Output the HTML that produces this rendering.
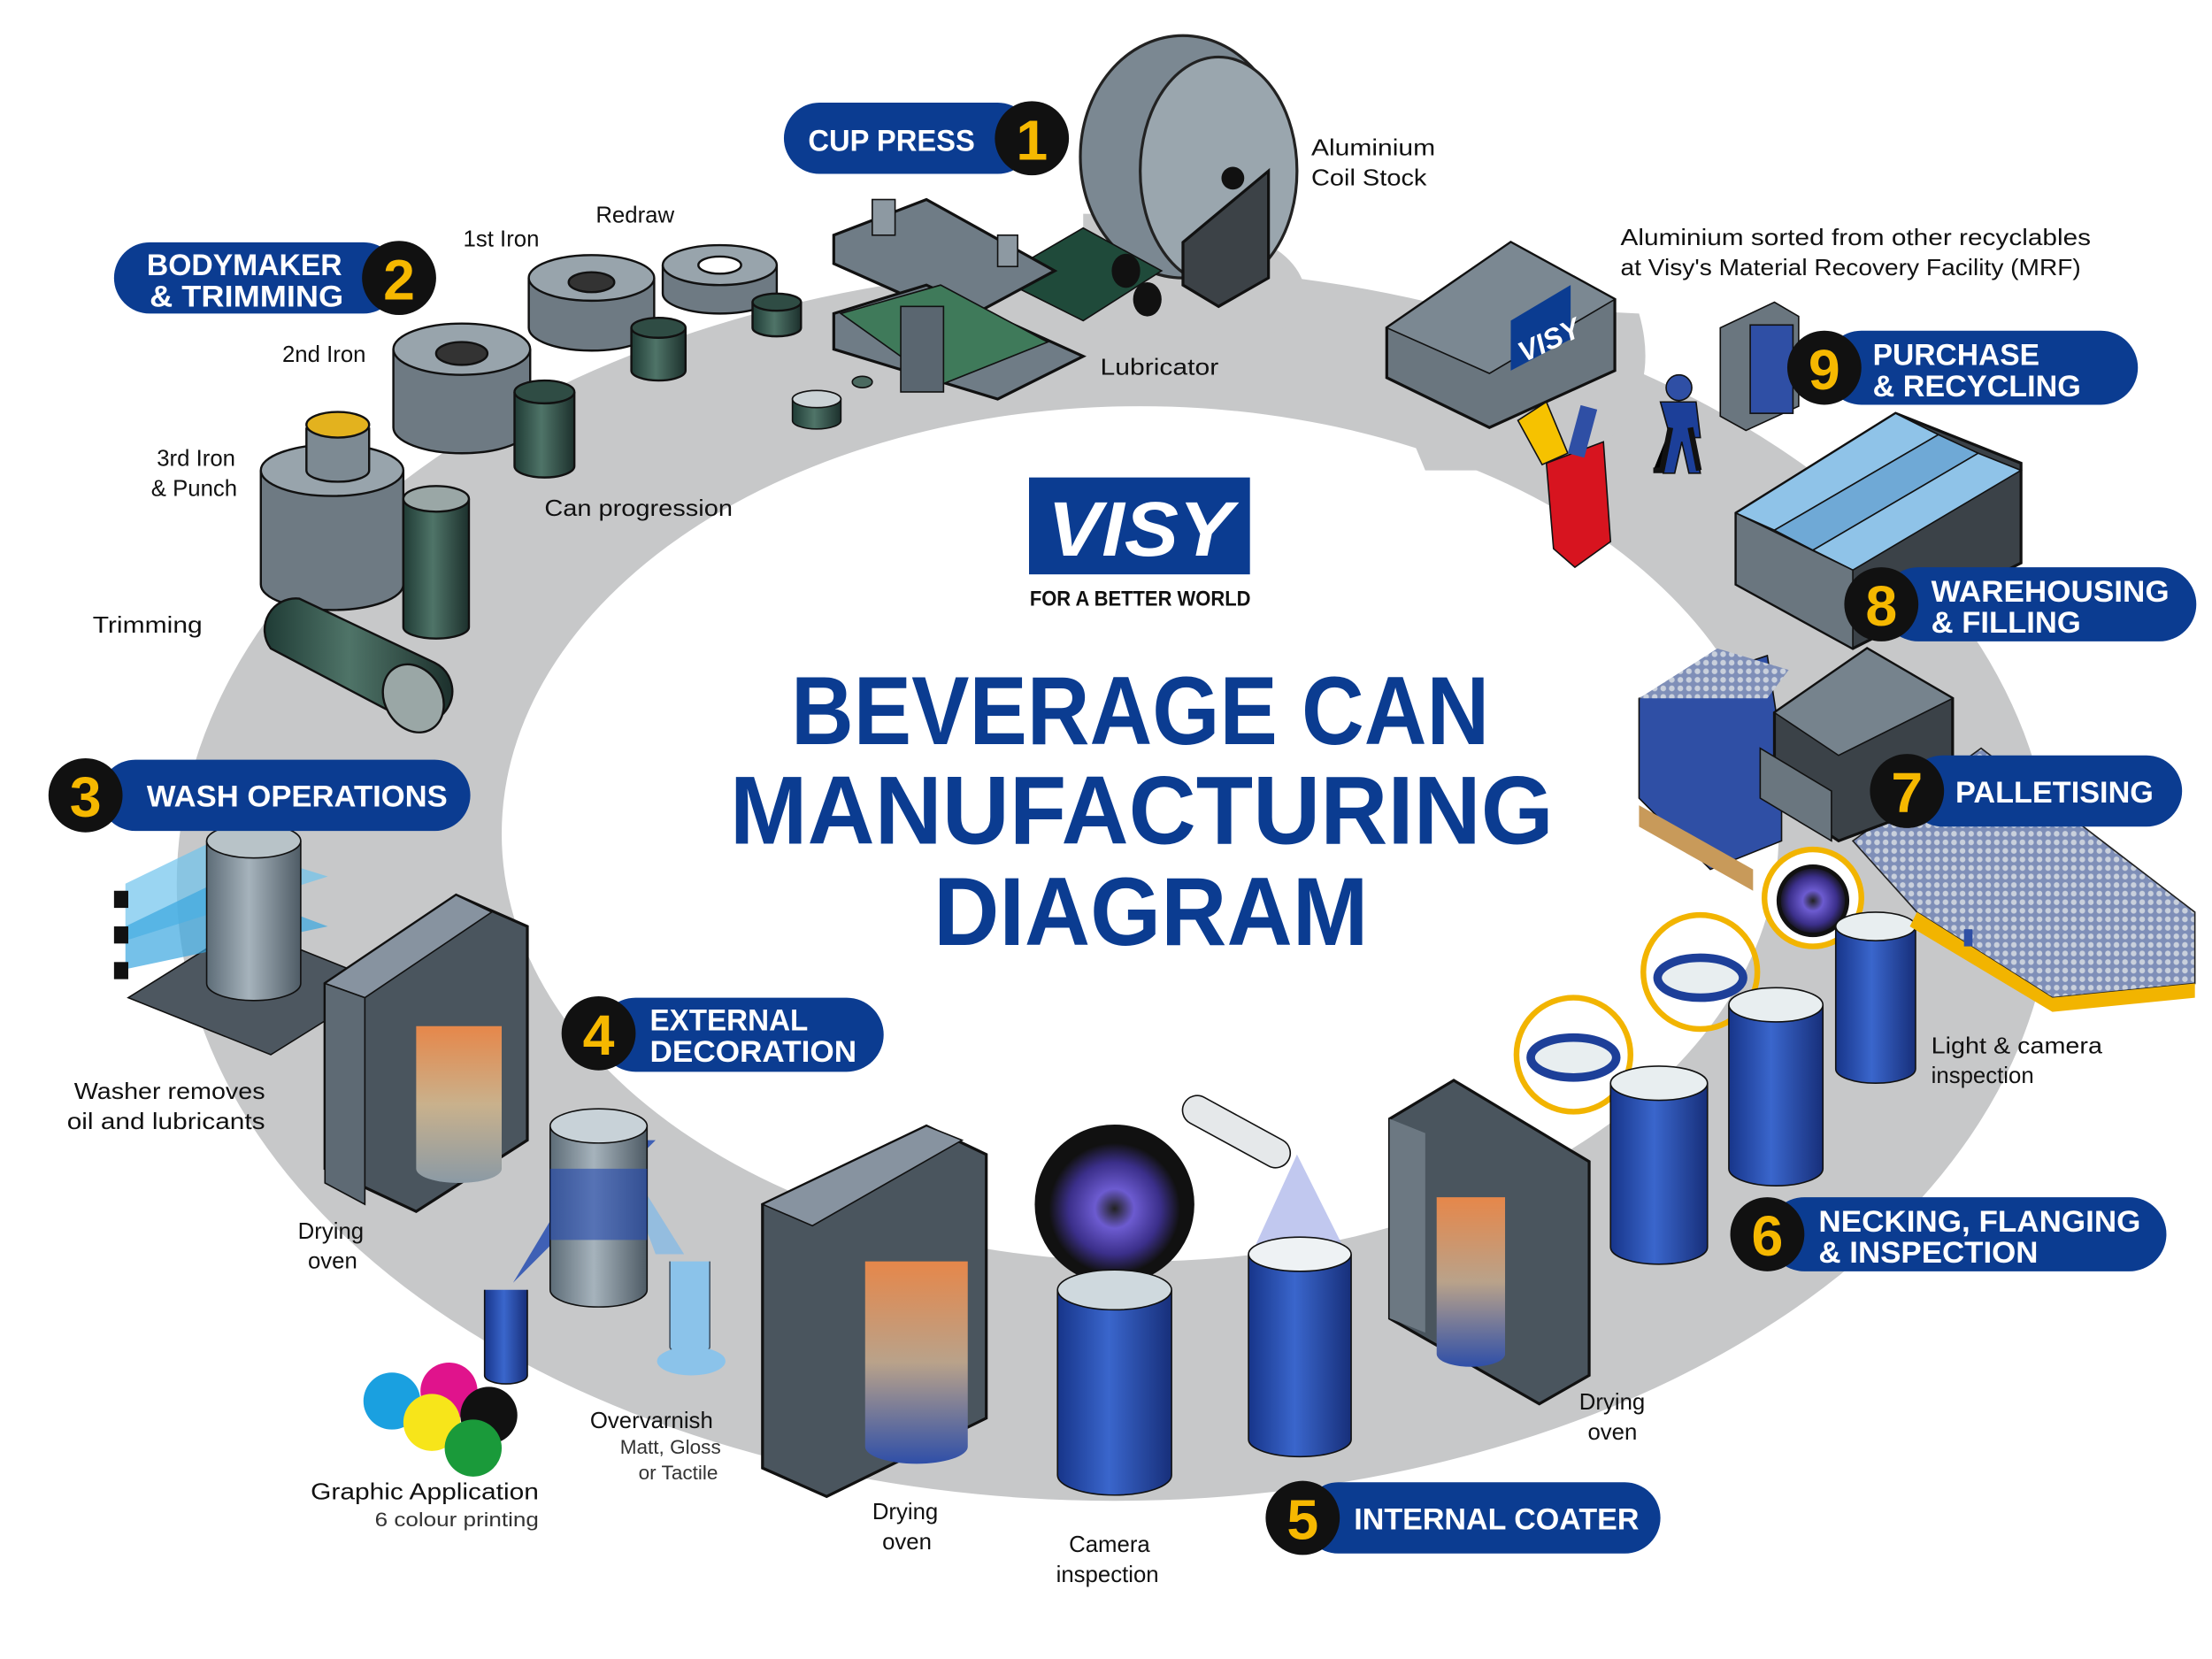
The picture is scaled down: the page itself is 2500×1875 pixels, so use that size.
<!DOCTYPE html>
<html><head><meta charset="utf-8">
<style>
html,body{margin:0;padding:0;background:#fff;}
svg{display:block;}
.lbl{font-family:"Liberation Sans",sans-serif;font-size:16px;fill:#111;}
.sm{font-family:"Liberation Sans",sans-serif;font-size:14px;fill:#333;}
.pill{font-family:"Liberation Sans",sans-serif;font-weight:bold;font-size:21px;fill:#fff;}
.num{font-family:"Liberation Sans",sans-serif;font-weight:bold;font-size:40px;fill:#f6b800;}
.title{font-family:"Liberation Sans",sans-serif;font-weight:bold;font-size:68px;fill:#0b3c91;}
</style></head><body>
<svg width="2500" height="1875" viewBox="0 0 1552 1164" preserveAspectRatio="none" xmlns="http://www.w3.org/2000/svg">
<defs>
<linearGradient id="blue" x1="0" x2="1"><stop offset="0" stop-color="#17358a"/><stop offset=".45" stop-color="#3a66cc"/><stop offset="1" stop-color="#172f7a"/></linearGradient>
<linearGradient id="grey" x1="0" x2="1"><stop offset="0" stop-color="#5d6c77"/><stop offset=".45" stop-color="#a6b3bc"/><stop offset="1" stop-color="#4e5b65"/></linearGradient>
<linearGradient id="green" x1="0" x2="1"><stop offset="0" stop-color="#1f3b35"/><stop offset=".45" stop-color="#4f7468"/><stop offset="1" stop-color="#1c302c"/></linearGradient>
<linearGradient id="hot" x1="0" x2="0" y1="0" y2="1"><stop offset="0" stop-color="#e6874a"/><stop offset=".5" stop-color="#b9a28a"/><stop offset="1" stop-color="#2f4fa8"/></linearGradient>
<linearGradient id="hotg" x1="0" x2="0" y1="0" y2="1"><stop offset="0" stop-color="#e6874a"/><stop offset=".5" stop-color="#c9b18c"/><stop offset="1" stop-color="#8b9aa5"/></linearGradient>
<radialGradient id="lens"><stop offset="0" stop-color="#222"/><stop offset=".3" stop-color="#6c5bd0"/><stop offset=".7" stop-color="#3b2f8a"/><stop offset="1" stop-color="#111"/></radialGradient>
<pattern id="dots" width="6" height="6" patternUnits="userSpaceOnUse"><rect width="6" height="6" fill="#7f8fb8"/><circle cx="3" cy="3" r="2" fill="#c9d0dc"/></pattern>
</defs>

<!-- ring -->
<path fill="#c7c8c9" fill-rule="evenodd" d="M124,620 a658,433 0 1,0 1316,0 a658,433 0 1,0 -1316,0 Z M352,585 a448,300 0 1,0 896,0 a448,300 0 1,0 -896,0 Z"/>
<path fill="#c7c8c9" d="M950,210 L1150,220 Q1170,290 1100,330 L1000,330 Z"/>
<path fill="#c7c8c9" d="M760,150 Q900,150 915,200 Q920,240 860,235 L760,230 Z"/>

<!-- Title / logo -->
<rect x="722" y="335" width="155" height="68" fill="#0b3c91"/>
<text x="800" y="390" text-anchor="middle" textLength="130" lengthAdjust="spacingAndGlyphs" style="font-family:'Liberation Sans',sans-serif;font-weight:bold;font-size:54px;fill:#fff;font-style:italic">VISY</text>
<text x="800" y="425" text-anchor="middle" textLength="155" lengthAdjust="spacingAndGlyphs" style="font-family:'Liberation Sans',sans-serif;font-weight:bold;font-size:15px;fill:#111">FOR A BETTER WORLD</text>
<text class="title" x="555" y="522" textLength="490" lengthAdjust="spacingAndGlyphs">BEVERAGE CAN</text>
<text class="title" x="512" y="592" textLength="578" lengthAdjust="spacingAndGlyphs">MANUFACTURING</text>
<text class="title" x="655" y="663" textLength="305" lengthAdjust="spacingAndGlyphs">DIAGRAM</text>

<!-- Coil stock & cup press -->
<ellipse cx="830" cy="110" rx="72" ry="85" fill="#7b8892" stroke="#222" stroke-width="2"/>
<ellipse cx="855" cy="120" rx="55" ry="80" fill="#9aa6ae" stroke="#222" stroke-width="2"/>
<polygon points="830,170 890,120 890,195 855,215 830,200" fill="#3c4247" stroke="#111" stroke-width="2"/>
<circle cx="865" cy="125" r="8" fill="#111"/>
<polygon points="700,195 760,160 815,190 760,225" fill="#1f4a3a" stroke="#111"/>
<ellipse cx="790" cy="190" rx="10" ry="12" fill="#111"/>
<ellipse cx="805" cy="210" rx="10" ry="12" fill="#111"/>
<polygon points="585,165 650,140 740,190 675,225 585,185" fill="#6f7c86" stroke="#111" stroke-width="2"/>
<polygon points="585,220 650,200 760,250 700,280 585,245" fill="#6f7c86" stroke="#111" stroke-width="2"/>
<polygon points="590,220 660,200 735,240 660,270" fill="#3f7a5a" stroke="#111"/>
<rect x="632" y="215" width="30" height="60" fill="#5a6670" stroke="#111"/>
<rect x="612" y="140" width="16" height="25" fill="#8d99a2" stroke="#111"/>
<rect x="700" y="165" width="14" height="22" fill="#8d99a2" stroke="#111"/>
<path d="M556,280 v15 a17,6 0 0,0 34,0 v-15 Z" fill="url(#green)" stroke="#111"/><ellipse cx="573" cy="280" rx="17" ry="6" fill="#cbd3d6" stroke="#111"/>
<ellipse cx="605" cy="268" rx="7" ry="4" fill="#4b6a60" stroke="#111"/>
<text class="lbl" x="920" y="109" textLength="87" lengthAdjust="spacingAndGlyphs">Aluminium</text>
<text class="lbl" x="920" y="130" textLength="81" lengthAdjust="spacingAndGlyphs">Coil Stock</text>
<text class="lbl" x="772" y="263" textLength="83" lengthAdjust="spacingAndGlyphs">Lubricator</text>

<!-- Bodymaker -->
<g stroke="#111" stroke-width="1.5">
<path d="M465,186 v20 a40,14 0 0,0 80,0 v-20" fill="#6e7a83"/><ellipse cx="505" cy="186" rx="40" ry="14" fill="#98a4ac"/><ellipse cx="505" cy="186" rx="15" ry="6" fill="#fff"/>
<path d="M528,212 v18 a17,6 0 0,0 34,0 v-18" fill="url(#green)"/><ellipse cx="545" cy="212" rx="17" ry="6" fill="#2f4c44"/>
<path d="M371,195 v35 a44,16 0 0,0 88,0 v-35" fill="#6e7a83"/><ellipse cx="415" cy="195" rx="44" ry="16" fill="#98a4ac"/><ellipse cx="415" cy="198" rx="16" ry="7" fill="#333"/>
<path d="M443,230 v30 a19,7 0 0,0 38,0 v-30" fill="url(#green)"/><ellipse cx="462" cy="230" rx="19" ry="7" fill="#2f4c44"/>
<path d="M276,245 v55 a48,18 0 0,0 96,0 v-55" fill="#6e7a83"/><ellipse cx="324" cy="245" rx="48" ry="18" fill="#98a4ac"/><ellipse cx="324" cy="248" rx="18" ry="8" fill="#333"/>
<path d="M361,275 v52 a21,8 0 0,0 42,0 v-52" fill="url(#green)"/><ellipse cx="382" cy="275" rx="21" ry="8" fill="#2f4c44"/>
<path d="M183,330 v80 a50,18 0 0,0 100,0 v-80" fill="#6e7a83"/><ellipse cx="233" cy="330" rx="50" ry="18" fill="#98a4ac"/>
<path d="M215,300 v30 a22,8 0 0,0 44,0 v-30" fill="#7d8a93"/><ellipse cx="237" cy="298" rx="22" ry="9" fill="#e3b21e"/>
<path d="M283,350 v90 a23,8 0 0,0 46,0 v-90" fill="url(#green)"/><ellipse cx="306" cy="350" rx="23" ry="9" fill="#9aa7a6"/>
<path d="M190,455 l95,50 a22,22 0 0,0 20,-40 l-95,-45 a22,22 0 0,0 -20,35 Z" fill="url(#green)"/>
<ellipse cx="290" cy="490" rx="20" ry="25" fill="#9aa7a6" transform="rotate(-30 290 490)"/>
</g>
<text class="lbl" x="418" y="156">Redraw</text>
<text class="lbl" x="325" y="173">1st Iron</text>
<text class="lbl" x="198" y="254">2nd Iron</text>
<text class="lbl" x="110" y="327">3rd Iron</text>
<text class="lbl" x="106" y="348">&amp; Punch</text>
<text class="lbl" x="382" y="362" textLength="132" lengthAdjust="spacingAndGlyphs">Can progression</text>
<text class="lbl" x="65" y="444" textLength="77" lengthAdjust="spacingAndGlyphs">Trimming</text>

<!-- Wash -->
<polygon points="90,700 170,650 270,690 190,740" fill="#4d5760" stroke="#111"/>
<polygon points="88,620 150,590 230,615 88,660" fill="#6fc3ec" opacity=".7"/>
<polygon points="88,650 150,620 230,650 88,680" fill="#3aa6e0" opacity=".7"/>
<path d="M145,590 v100 a33,12 0 0,0 66,0 v-100" fill="url(#grey)" stroke="#111"/><ellipse cx="178" cy="590" rx="33" ry="12" fill="#b8c3c8" stroke="#111"/>
<rect x="80" y="625" width="10" height="12" fill="#111"/><rect x="80" y="650" width="10" height="12" fill="#111"/><rect x="80" y="675" width="10" height="12" fill="#111"/>
<text class="lbl" x="52" y="771" textLength="134" lengthAdjust="spacingAndGlyphs">Washer removes</text>
<text class="lbl" x="47" y="792" textLength="139" lengthAdjust="spacingAndGlyphs">oil and lubricants</text>
<!-- oven 1 -->
<polygon points="228,690 320,628 370,650 370,800 292,850 228,820" fill="#4a555e" stroke="#111" stroke-width="2"/>
<polygon points="228,690 320,628 345,640 256,700" fill="#8793a0" stroke="#111"/>
<polygon points="228,690 256,700 256,845 228,830" fill="#5e6a74" stroke="#111"/>
<path d="M292,720 v100 a30,10 0 0,0 60,0 v-100" fill="url(#hotg)"/>
<text class="lbl" x="209" y="869">Drying</text><text class="lbl" x="216" y="890">oven</text>

<!-- decoration -->
<polygon points="360,900 420,800 460,800" fill="#1d46b0" opacity=".8"/>
<polygon points="430,800 480,880 460,880" fill="#7fb8e8" opacity=".7"/>
<path d="M386,790 v115 a34,12 0 0,0 68,0 v-115" fill="url(#grey)" stroke="#111"/><ellipse cx="420" cy="790" rx="34" ry="12" fill="#c8d2d8" stroke="#111"/>
<path d="M386,820 v50 l68,0 v-50 Z" fill="#2248b0" opacity=".6"/>
<path d="M340,905 v60 a15,6 0 0,0 30,0 v-60" fill="url(#blue)" stroke="#111"/>
<path d="M470,885 v60 a14,5 0 0,0 28,0 v-60" fill="#8bc3ea" stroke="#456"/>
<ellipse cx="485" cy="955" rx="24" ry="10" fill="#8bc3ea"/>
<circle cx="275" cy="983" r="20" fill="#1aa0e0"/><circle cx="315" cy="976" r="20" fill="#e0138c"/><circle cx="303" cy="998" r="20" fill="#f7e51a"/><circle cx="343" cy="993" r="20" fill="#111"/><circle cx="332" cy="1016" r="20" fill="#1a9a3a"/>
<text class="lbl" x="414" y="1002">Overvarnish</text>
<text class="sm" x="435" y="1020">Matt, Gloss</text>
<text class="sm" x="448" y="1038">or Tactile</text>
<text class="lbl" x="218" y="1052" textLength="160" lengthAdjust="spacingAndGlyphs">Graphic Application</text>
<text class="sm" x="263" y="1071" textLength="115" lengthAdjust="spacingAndGlyphs">6 colour printing</text>

<!-- oven 2 -->
<polygon points="535,845 650,790 692,810 692,995 580,1050 535,1030" fill="#4a555e" stroke="#111" stroke-width="2"/>
<polygon points="535,845 650,790 675,800 570,860" fill="#8793a0" stroke="#111"/>
<path d="M607,885 v130 a36,12 0 0,0 72,0 v-130" fill="url(#hot)"/>
<text class="lbl" x="612" y="1066">Drying</text><text class="lbl" x="619" y="1087">oven</text>
<!-- camera -->
<circle cx="782" cy="845" r="56" fill="#111"/><circle cx="782" cy="848" r="46" fill="url(#lens)"/>
<path d="M742,905 v130 a40,14 0 0,0 80,0 v-130" fill="url(#blue)" stroke="#111"/><ellipse cx="782" cy="905" rx="40" ry="14" fill="#cfd9de" stroke="#111"/>
<text class="lbl" x="750" y="1089">Camera</text><text class="lbl" x="741" y="1110">inspection</text>
<!-- coater -->
<path d="M845,770 l55,30 a10,10 0 0,1 -10,18 l-55,-30 a10,10 0 0,1 10,-18 Z" fill="#e5e8ea" stroke="#111"/>
<polygon points="910,810 878,880 945,880" fill="#a7b0e8" opacity=".7"/>
<path d="M876,880 v130 a36,12 0 0,0 72,0 v-130" fill="url(#blue)" stroke="#111"/><ellipse cx="912" cy="880" rx="36" ry="12" fill="#eef2f4" stroke="#111"/>
<!-- oven 3 -->
<polygon points="975,785 1020,758 1115,815 1115,965 1080,985 975,925" fill="#4a555e" stroke="#111" stroke-width="2"/>
<polygon points="975,785 1000,795 1000,935 975,925" fill="#6c7882"/>
<path d="M1008,840 v110 a24,9 0 0,0 48,0 v-110" fill="url(#hot)"/>
<text class="lbl" x="1108" y="989">Drying</text><text class="lbl" x="1114" y="1010">oven</text>
<!-- necking cans -->
<circle cx="1104" cy="740" r="40" fill="none" stroke="#f2b400" stroke-width="4"/>
<ellipse cx="1104" cy="742" rx="30" ry="14" fill="#e8eef0" stroke="#1d3f99" stroke-width="6"/>
<circle cx="1193" cy="682" r="40" fill="none" stroke="#f2b400" stroke-width="4"/>
<ellipse cx="1193" cy="686" rx="30" ry="14" fill="#e8eef0" stroke="#1d3f99" stroke-width="6"/>
<circle cx="1272" cy="630" r="34" fill="#fff" stroke="#f2b400" stroke-width="4"/><circle cx="1272" cy="632" r="24" fill="url(#lens)" stroke="#111" stroke-width="3"/>
<path d="M1130,760 v115 a34,12 0 0,0 68,0 v-115" fill="url(#blue)" stroke="#111"/><ellipse cx="1164" cy="760" rx="34" ry="12" fill="#e8eef0" stroke="#111"/>
<path d="M1213,705 v115 a33,12 0 0,0 66,0 v-115" fill="url(#blue)" stroke="#111"/><ellipse cx="1246" cy="705" rx="33" ry="12" fill="#e8eef0" stroke="#111"/>
<path d="M1288,650 v100 a28,10 0 0,0 56,0 v-100" fill="url(#blue)" stroke="#111"/><ellipse cx="1316" cy="650" rx="28" ry="10" fill="#e8eef0" stroke="#111"/>
<text class="lbl" x="1355" y="739" textLength="120" lengthAdjust="spacingAndGlyphs">Light &amp; camera</text><text class="lbl" x="1355" y="760">inspection</text>

<!-- palletising -->
<polygon points="1300,590 1390,525 1540,640 1540,690 1440,700 1345,640" fill="url(#dots)" stroke="#222"/>
<polygon points="1345,640 1440,700 1540,690 1540,700 1440,710 1340,650" fill="#f2b400"/>
<polygon points="1150,560 1150,490 1240,460 1250,525 1250,590 1200,610" fill="#2f4fa5" stroke="#111"/>
<polygon points="1150,490 1205,455 1255,470 1240,490" fill="url(#dots)"/>
<polygon points="1150,565 1230,610 1230,625 1150,580" fill="#c89a5a"/>
<polygon points="1245,500 1310,455 1370,490 1370,560 1290,590 1245,560" fill="#3b4248" stroke="#111" stroke-width="2"/>
<polygon points="1245,500 1310,455 1370,490 1290,530" fill="#76838d" stroke="#111"/>
<polygon points="1235,525 1285,555 1285,590 1235,560" fill="#6a767f" stroke="#111"/>
<rect x="1378" y="652" width="6" height="12" fill="#2f4fa5"/>

<!-- warehousing -->
<polygon points="1218,360 1330,290 1418,325 1418,395 1300,455 1218,410" fill="#3b4248" stroke="#111" stroke-width="2"/>
<polygon points="1218,360 1330,290 1360,305 1245,372" fill="#8fc3e8" stroke="#111"/>
<polygon points="1245,372 1360,305 1388,318 1272,386" fill="#6fa9d6" stroke="#111"/>
<polygon points="1272,386 1388,318 1418,330 1300,400" fill="#8fc3e8" stroke="#111"/>
<polygon points="1218,360 1300,400 1300,455 1218,410" fill="#6a767f" stroke="#111"/>
<!-- recycling -->
<polygon points="973,230 1060,170 1133,210 1133,260 1045,300 973,265" fill="#6a767f" stroke="#111" stroke-width="2"/>
<polygon points="973,230 1060,170 1133,210 1045,262" fill="#7b8892" stroke="#111"/>
<polygon points="1060,225 1102,200 1102,238 1060,260" fill="#0b3c91"/>
<text x="1062" y="248" transform="rotate(-25 1080 235)" style="font-family:'Liberation Sans',sans-serif;font-weight:bold;font-style:italic;font-size:20px;fill:#fff">VISY</text>
<polygon points="1085,325 1125,310 1130,380 1105,398 1090,385" fill="#d7141f" stroke="#111"/>
<polygon points="1065,295 1085,282 1100,318 1082,326" fill="#f6c200" stroke="#111"/>
<rect x="1105" y="285" width="12" height="35" fill="#2f4fa5" transform="rotate(15 1110 300)"/>
<circle cx="1178" cy="272" r="9" fill="#2f4fa5" stroke="#111"/>
<path d="M1165,282 l25,0 l3,25 l-5,0 l5,25 l-8,0 l-5,-22 l-5,22 l-8,0 l5,-25 Z" fill="#1c3f99" stroke="#111"/>
<path d="M1172,300 l-6,30 l-6,0 M1186,300 l6,30" stroke="#111" stroke-width="4"/>
<polygon points="1207,230 1245,212 1262,222 1262,285 1225,302 1207,292" fill="#6a767f" stroke="#111"/>
<rect x="1228" y="228" width="30" height="62" fill="#2f4fa5" stroke="#111"/>
<text class="lbl" x="1137" y="172" textLength="330" lengthAdjust="spacingAndGlyphs">Aluminium sorted from other recyclables</text>
<text class="lbl" x="1137" y="193" textLength="323" lengthAdjust="spacingAndGlyphs">at Visy's Material Recovery Facility (MRF)</text>

<!-- pills -->
<g>
<rect x="550" y="72" width="175" height="50" rx="25" fill="#0b3c91"/><text class="pill" x="567" y="106" textLength="117" lengthAdjust="spacingAndGlyphs">CUP PRESS</text>
<circle cx="724" cy="97" r="26" fill="#111"/><text class="num" x="724" y="112" text-anchor="middle">1</text>

<rect x="80" y="170" width="200" height="50" rx="25" fill="#0b3c91"/><text class="pill" x="103" y="193" textLength="137" lengthAdjust="spacingAndGlyphs">BODYMAKER</text><text class="pill" x="105" y="215" textLength="136" lengthAdjust="spacingAndGlyphs">&amp; TRIMMING</text>
<circle cx="280" cy="195" r="26" fill="#111"/><text class="num" x="280" y="210" text-anchor="middle">2</text>

<rect x="70" y="533" width="260" height="50" rx="25" fill="#0b3c91"/><text class="pill" x="103" y="566" textLength="211" lengthAdjust="spacingAndGlyphs">WASH OPERATIONS</text>
<circle cx="60" cy="558" r="26" fill="#111"/><text class="num" x="60" y="573" text-anchor="middle">3</text>

<rect x="420" y="700" width="200" height="52" rx="26" fill="#0b3c91"/><text class="pill" x="456" y="723" textLength="111" lengthAdjust="spacingAndGlyphs">EXTERNAL</text><text class="pill" x="456" y="745" textLength="145" lengthAdjust="spacingAndGlyphs">DECORATION</text>
<circle cx="420" cy="725" r="26" fill="#111"/><text class="num" x="420" y="740" text-anchor="middle">4</text>

<rect x="914" y="1040" width="251" height="50" rx="25" fill="#0b3c91"/><text class="pill" x="950" y="1073" textLength="200" lengthAdjust="spacingAndGlyphs">INTERNAL COATER</text>
<circle cx="914" cy="1065" r="26" fill="#111"/><text class="num" x="914" y="1080" text-anchor="middle">5</text>

<rect x="1240" y="840" width="280" height="52" rx="26" fill="#0b3c91"/><text class="pill" x="1276" y="864" textLength="226" lengthAdjust="spacingAndGlyphs">NECKING, FLANGING</text><text class="pill" x="1276" y="886" textLength="154" lengthAdjust="spacingAndGlyphs">&amp; INSPECTION</text>
<circle cx="1240" cy="866" r="26" fill="#111"/><text class="num" x="1240" y="881" text-anchor="middle">6</text>

<rect x="1338" y="530" width="193" height="50" rx="25" fill="#0b3c91"/><text class="pill" x="1372" y="563" textLength="139" lengthAdjust="spacingAndGlyphs">PALLETISING</text>
<circle cx="1338" cy="555" r="26" fill="#111"/><text class="num" x="1338" y="570" text-anchor="middle">7</text>

<rect x="1320" y="398" width="221" height="52" rx="26" fill="#0b3c91"/><text class="pill" x="1355" y="422" textLength="167" lengthAdjust="spacingAndGlyphs">WAREHOUSING</text><text class="pill" x="1355" y="444" textLength="105" lengthAdjust="spacingAndGlyphs">&amp; FILLING</text>
<circle cx="1320" cy="424" r="26" fill="#111"/><text class="num" x="1320" y="439" text-anchor="middle">8</text>

<rect x="1280" y="232" width="220" height="52" rx="26" fill="#0b3c91"/><text class="pill" x="1314" y="256" textLength="117" lengthAdjust="spacingAndGlyphs">PURCHASE</text><text class="pill" x="1314" y="278" textLength="146" lengthAdjust="spacingAndGlyphs">&amp; RECYCLING</text>
<circle cx="1280" cy="258" r="26" fill="#111"/><text class="num" x="1280" y="273" text-anchor="middle">9</text>
</g>
</svg>
</body></html>
